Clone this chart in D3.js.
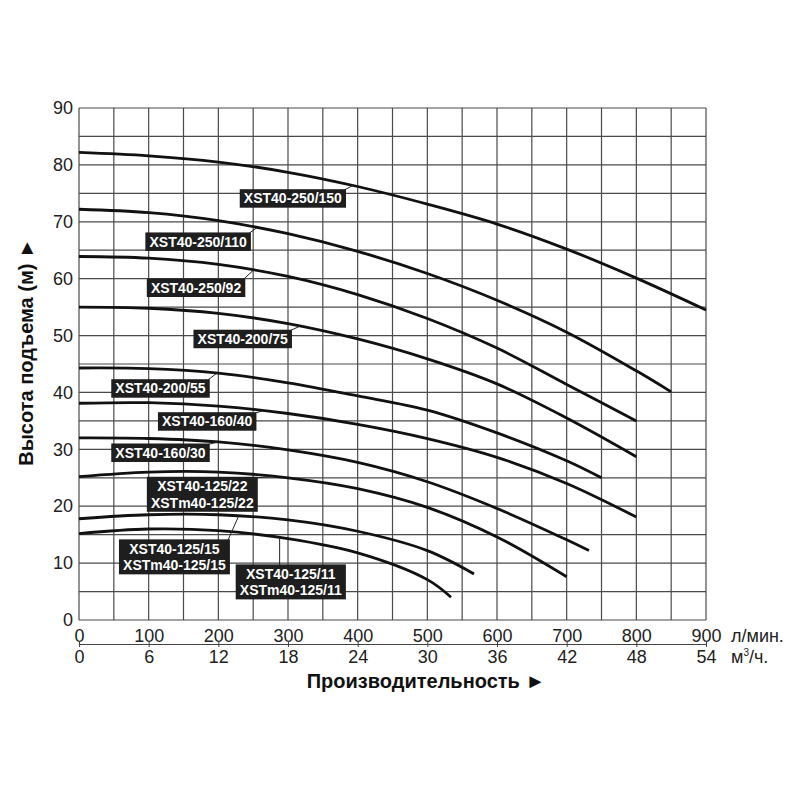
<!DOCTYPE html>
<html>
<head>
<meta charset="utf-8">
<script src="https://cdn.jsdelivr.net/npm/d3@7"></script>
<style>
body { margin: 0; background: #fff; }
text { font-family: "Liberation Sans", Arial, sans-serif; }
</style>
</head>
<body>
<script>
// кривые напор (м) от расхода (л/мин)
var c250_150 = [[0,82.2],[100,81.6],[200,80.5],[300,78.7],[400,76.2],[500,73.1],[600,69.6],[700,65.2],[800,60.1],[900,54.5]];
var c250_110 = [[0,72.2],[100,71.6],[200,70.2],[300,67.9],[400,64.8],[500,60.9],[600,56.2],[700,50.6],[800,43.8],[850,40.1]];
var c250_92  = [[0,63.9],[100,63.6],[200,62.5],[300,60.4],[400,57.2],[500,53.0],[600,47.8],[700,41.4],[800,35.0]];
var c200_75  = [[0,55.0],[100,54.8],[200,53.9],[300,52.1],[400,49.4],[500,45.9],[600,41.5],[700,35.5],[800,28.7]];
var c200_55  = [[0,44.3],[100,44.2],[200,43.4],[300,41.7],[400,39.4],[500,36.9],[600,32.9],[700,28.0],[750,25.0]];
var c160_40  = [[0,38.1],[100,38.2],[200,37.6],[300,36.3],[400,34.4],[500,31.9],[600,28.6],[700,24.0],[800,18.1]];
var c160_30  = [[0,32.0],[100,31.9],[200,31.3],[300,29.9],[400,27.7],[500,24.3],[600,19.6],[700,14.1],[732,12.2]];
var c125_22  = [[0,25.2],[100,26.0],[200,26.0],[300,25.0],[400,23.1],[500,19.8],[600,14.6],[700,7.6]];
var c125_15  = [[0,17.8],[100,18.5],[200,18.5],[300,17.6],[400,15.6],[500,12.2],[567,8.1]];
var c125_11  = [[0,15.2],[100,16.0],[200,15.7],[300,14.3],[400,11.8],[500,7.1],[534,4.0]];

var curves = [c250_150, c250_110, c250_92, c200_75, c200_55, c160_40, c160_30, c125_22, c125_15, c125_11];
var names = [
	["XST40-250/150"], ["XST40-250/110"], ["XST40-250/92"], ["XST40-200/75"],
	["XST40-200/55"], ["XST40-160/40"], ["XST40-160/30"],
	["XST40-125/22", "XSTm40-125/22"], ["XST40-125/15", "XSTm40-125/15"], ["XST40-125/11", "XSTm40-125/11"]
];

var qTicks = [0,100,200,300,400,500,600,700,800,900];
var m3Ticks = [0,6,12,18,24,30,36,42,48,54];
var hTicks = [0,10,20,30,40,50,60,70,80,90];

// где стоят подписи (центр плашки и точка выноски по расходу), в единицах графика
var labelPos = [
	{q:307, h:74.1, to:393}, {q:171, h:66.5, to:255}, {q:168, h:58.4, to:250}, {q:235, h:49.4, to:317},
	{q:117, h:40.7, to:198}, {q:184, h:34.9, to:264}, {q:117, h:29.4, to:200},
	{q:177, h:22.1, to:279}, {q:137, h:11.1, to:229}, {q:304, h:6.7, to:288}
];

var svg = d3.select("body").append("svg")
	.attr("width", 800)
	.attr("height", 800)
	.style("background", "#fff");

var x = d3.scaleLinear().domain([0, 900]).range([79, 706]);
var xm = d3.scaleLinear().domain([0, 54]).range([79, 706]);
var y = d3.scaleLinear().domain([0, 90]).range([620, 108]);

// сетка
svg.append("g").selectAll("line")
	.data(d3.range(0, 901, 50)).enter()
	.append("line")
	.attr("x1", function(d){ return x(d); })
	.attr("x2", function(d){ return x(d); })
	.attr("y1", y(0)).attr("y2", y(90))
	.attr("stroke", "#4a4a4a").attr("stroke-width", 1.2);

svg.append("g").selectAll("line")
	.data(d3.range(0, 91, 5)).enter()
	.append("line")
	.attr("y1", function(d){ return y(d); })
	.attr("y2", function(d){ return y(d); })
	.attr("x1", x(0)).attr("x2", x(900))
	.attr("stroke", "#4a4a4a").attr("stroke-width", 1.2);

// оси
var yAxis = svg.append("g")
	.attr("transform", "translate(" + x(0) + ",0)")
	.call(d3.axisLeft(y).tickValues(hTicks).tickSize(0).tickPadding(6));
yAxis.select(".domain").remove();
yAxis.selectAll("text").style("font-size", "18px").attr("fill", "#222")
	.style("font-family", "'Liberation Sans', Arial, sans-serif");

var qAxis = svg.append("g")
	.attr("transform", "translate(0," + y(0) + ")")
	.call(d3.axisBottom(x).tickValues(qTicks).tickSize(0));
qAxis.select(".domain").remove();
qAxis.selectAll("text").attr("y", 22).attr("dy", null)
	.style("font-size", "18px").attr("fill", "#222")
	.style("font-family", "'Liberation Sans', Arial, sans-serif");

var mAxis = svg.append("g")
	.attr("transform", "translate(0,644)")
	.call(d3.axisBottom(xm).tickValues(m3Ticks).tickSize(3).tickSizeOuter(0));
mAxis.select(".domain").attr("stroke", "#444").attr("stroke-width", 1.2);
mAxis.selectAll("line").attr("y1", -3).attr("y2", 3).attr("stroke", "#444");
mAxis.selectAll("text").attr("y", 19).attr("dy", null)
	.style("font-size", "18px").attr("fill", "#222")
	.style("font-family", "'Liberation Sans', Arial, sans-serif");

svg.append("text").attr("x", 731).attr("y", 642)
	.style("font-size", "18px").attr("fill", "#222").text("л/мин.");
var mu = svg.append("text").attr("x", 731).attr("y", 663)
	.style("font-size", "18px").attr("fill", "#222");
mu.append("tspan").text("м");
mu.append("tspan").attr("dy", -7).style("font-size", "10px").text("3");
mu.append("tspan").attr("dy", 7).text("/ч.");

svg.append("text").attr("x", 426).attr("y", 688)
	.attr("text-anchor", "middle")
	.style("font-size", "20px").style("font-weight", "bold").attr("fill", "#111")
	.text("Производительность ►");

svg.append("text")
	.attr("transform", "translate(33,352) rotate(-90)")
	.attr("text-anchor", "middle")
	.style("font-size", "20px").style("font-weight", "bold").attr("fill", "#111")
	.text("Высота подъема (м) ►");

// кривые
var line = d3.line()
	.x(function(d){ return x(d[0]); })
	.y(function(d){ return y(d[1]); })
	.curve(d3.curveCatmullRom.alpha(0.5));

svg.append("g").selectAll("path")
	.data(curves).enter()
	.append("path")
	.attr("d", line)
	.attr("fill", "none")
	.attr("stroke", "#111")
	.attr("stroke-width", 2.8);

function headAt(c, q) {
	for (var i = 1; i < c.length; i++) {
		if (q <= c[i][0]) {
			var t = (q - c[i-1][0]) / (c[i][0] - c[i-1][0]);
			return c[i-1][1] + t * (c[i][1] - c[i-1][1]);
		}
	}
	return c[c.length-1][1];
}

// подписи моделей
var lab = svg.append("g");
names.forEach(function(n, i) {
	var p = labelPos[i];
	var cx = x(p.q), cy = y(p.h);
	var g = lab.append("g");
	var box = g.append("rect").attr("fill", "#1e1e1e");
	var t = g.append("text")
		.attr("text-anchor", "middle")
		.style("font-size", "14px").style("font-weight", "bold").attr("fill", "#fff");
	var lh = 16.5;
	n.forEach(function(s, k) {
		t.append("tspan").attr("x", cx)
			.attr("y", cy + 5 + (k - (n.length - 1) / 2) * lh)
			.text(s);
	});
	var bb = t.node().getBBox();
	var w = bb.width + 8, h = n.length * lh + 2;
	var left = cx - w / 2, top = cy - h / 2;
	box.attr("x", left).attr("y", top).attr("width", w).attr("height", h);
	var tx = x(p.to), ty = y(headAt(curves[i], p.to));
	var sx = Math.max(left + 4, Math.min(left + w - 2, tx));
	g.insert("line", "rect")
		.attr("x1", sx).attr("y1", top + 1)
		.attr("x2", tx).attr("y2", ty)
		.attr("stroke", "#222").attr("stroke-width", 1);
});
</script>
</body>
</html>
